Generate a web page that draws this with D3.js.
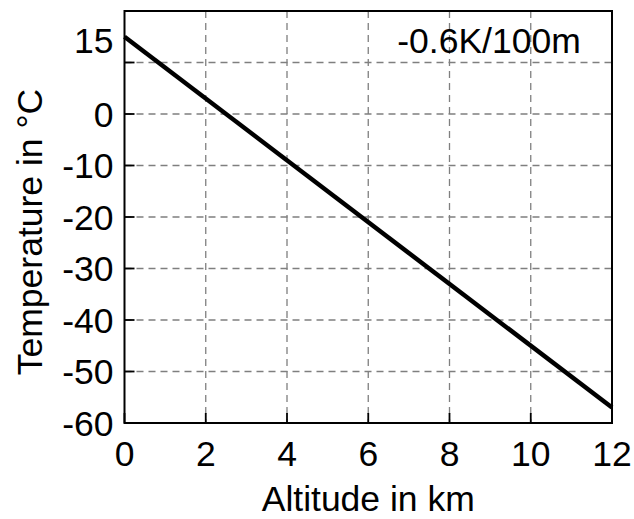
<!DOCTYPE html>
<html><head><meta charset="utf-8">
<script src="https://cdn.jsdelivr.net/npm/d3@7"></script>
<style>
html,body{margin:0;padding:0;background:#fff;}
text{font-family:"Liberation Sans",Arial,sans-serif;fill:#000;}
</style></head>
<body><svg id="c" width="634" height="519"></svg>
<script>
// Data
const altitudeKm = [0, 12];
const temperatureC = [15, -57];
const xTicks = [0, 2, 4, 6, 8, 10, 12];
const yGrid = [10, 0, -10, -20, -30, -40, -50, -60];
const yTickLabels = [15, 0, -10, -20, -30, -40, -50, -60];
const xLabel = "Altitude in km";
const yLabel = "Temperature in °C";
const annotation = "-0.6K/100m";

const svg = d3.select("#c");
const m = {left: 124.5, right: 612, top: 11, bottom: 423};
const x = d3.scaleLinear().domain([0, 12]).range([m.left, m.right]);
const y = d3.scaleLinear().domain([-60, 20]).range([m.bottom, m.top]);
const fs = "35.5px";

// grid
svg.append("g").selectAll("line").data(xTicks.slice(1, -1)).join("line")
  .attr("x1", d => x(d)).attr("x2", d => x(d)).attr("y1", m.top).attr("y2", m.bottom)
  .attr("stroke", "#7f7f7f").attr("stroke-width", 1.3).attr("stroke-dasharray", "7,5");
svg.append("g").selectAll("line").data(yGrid.filter(d => d > -60)).join("line")
  .attr("y1", d => y(d)).attr("y2", d => y(d)).attr("x1", m.left).attr("x2", m.right)
  .attr("stroke", "#7f7f7f").attr("stroke-width", 1.3).attr("stroke-dasharray", "7,5");

// inward ticks
svg.append("g").selectAll("line").data(yGrid).join("line")
  .attr("y1", d => y(d)).attr("y2", d => y(d)).attr("x1", m.left).attr("x2", m.left + 10)
  .attr("stroke", "#000").attr("stroke-width", 1.8);
svg.append("g").selectAll("line").data(xTicks).join("line")
  .attr("x1", d => x(d)).attr("x2", d => x(d)).attr("y1", m.bottom).attr("y2", m.bottom - 10)
  .attr("stroke", "#000").attr("stroke-width", 1.8);

// frame
svg.append("rect").attr("x", m.left).attr("y", m.top)
  .attr("width", m.right - m.left).attr("height", m.bottom - m.top)
  .attr("fill", "none").attr("stroke", "#000").attr("stroke-width", 2);

// line
const pts = altitudeKm.map((a, i) => [a, temperatureC[i]]);
svg.append("path").datum(pts)
  .attr("d", d3.line().x(d => x(d[0])).y(d => y(d[1])))
  .attr("fill", "none").attr("stroke", "#000").attr("stroke-width", 4.5);

// tick labels
svg.append("g").selectAll("text").data(yTickLabels).join("text")
  .attr("x", m.left - 11).attr("y", d => y(d) + (d === 15 ? 3 : 0))
  .attr("dy", "0.36em").attr("text-anchor", "end")
  .style("font-size", fs).text(d => d);
svg.append("g").selectAll("text").data(xTicks).join("text")
  .attr("x", d => x(d)).attr("y", 466).attr("text-anchor", "middle")
  .style("font-size", fs).text(d => d);

// axis titles
svg.append("text").attr("x", (m.left + m.right) / 2).attr("y", 511)
  .attr("text-anchor", "middle").style("font-size", fs).text(xLabel);
svg.append("text").attr("transform", "translate(42,232) rotate(-90)")
  .attr("text-anchor", "middle").style("font-size", fs).text(yLabel);

// annotation
svg.append("text").attr("x", 489).attr("y", 53).attr("text-anchor", "middle")
  .style("font-size", fs).text(annotation);
</script></body></html>
